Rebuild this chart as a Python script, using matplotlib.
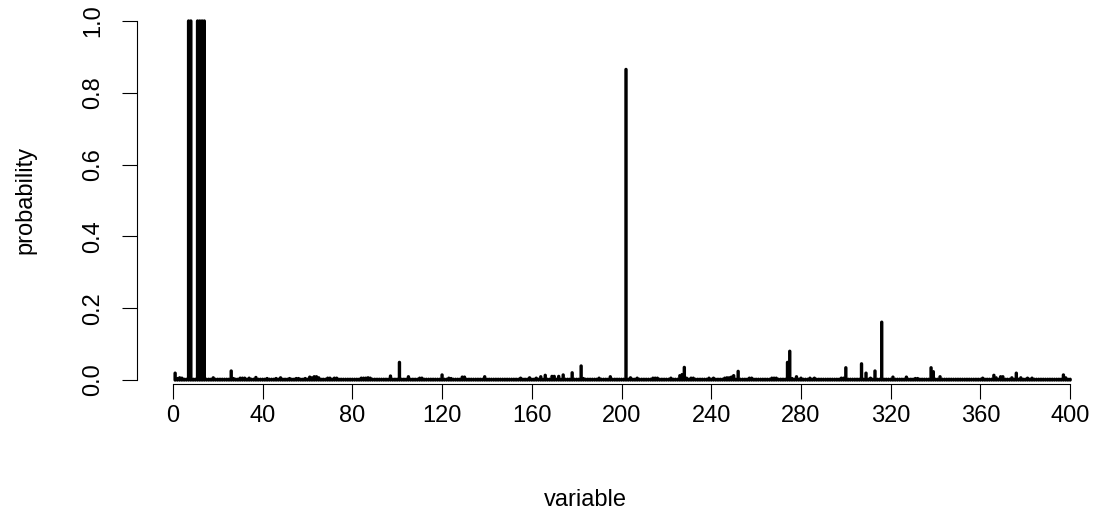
import numpy as np
import matplotlib
matplotlib.use("Agg")
import matplotlib.pyplot as plt

plt.rcParams['font.family'] = ['Liberation Sans', 'DejaVu Sans']
plt.rcParams['path.simplify'] = False

# ---- data -------------------------------------------------------------
n_variables = 400
base_prob = 0.002
sel_vars = [1, 2, 3, 4, 7, 8, 11, 12, 13, 14, 18, 26, 27, 30, 31, 32, 34, 37,
            42, 46, 48, 52, 55, 56, 59, 61, 62, 63, 64, 65, 69, 70, 72, 73,
            84, 85, 86, 87, 88, 97, 101, 105, 110, 111, 120, 123, 124, 129,
            130, 139, 155, 159, 162, 164, 166, 169, 170, 172, 174, 178, 182,
            183, 190, 195, 202, 204, 207, 214, 215, 216, 222, 226, 227, 228,
            229, 231, 232, 239, 241, 246, 247, 248, 249, 250, 252, 257, 258,
            267, 268, 269, 274, 275, 276, 278, 280, 284, 286, 298, 299, 300,
            307, 309, 311, 313, 316, 321, 327, 331, 332, 338, 339, 342, 361,
            366, 367, 369, 370, 374, 376, 378, 381, 383, 397, 398]
sel_probs = [0.019, 0.004, 0.006, 0.005, 1.0, 1.0, 1.0, 1.0, 1.0, 1.0, 0.006,
             0.025, 0.004, 0.005, 0.005, 0.005, 0.005, 0.007,
             0.004, 0.004, 0.006, 0.004, 0.004, 0.004, 0.004, 0.008, 0.006,
             0.009, 0.009, 0.006, 0.005, 0.005, 0.005, 0.005,
             0.005, 0.005, 0.005, 0.006, 0.005, 0.011, 0.049, 0.009, 0.005,
             0.005, 0.014, 0.005, 0.004, 0.008,
             0.008, 0.009, 0.005, 0.006, 0.005, 0.009, 0.013, 0.010, 0.010,
             0.010, 0.014, 0.020, 0.039,
             0.004, 0.005, 0.009, 0.865, 0.006, 0.005, 0.005, 0.005, 0.005,
             0.005, 0.012, 0.015, 0.035,
             0.005, 0.005, 0.005, 0.005, 0.005, 0.005, 0.006, 0.006, 0.008,
             0.012, 0.024, 0.005, 0.005,
             0.005, 0.005, 0.005, 0.049, 0.080, 0.004, 0.009, 0.005, 0.005,
             0.005, 0.005, 0.005, 0.034,
             0.045, 0.019, 0.005, 0.025, 0.161, 0.008, 0.008, 0.004, 0.004,
             0.034, 0.023, 0.009, 0.005,
             0.013, 0.006, 0.009, 0.009, 0.006, 0.019, 0.006, 0.005, 0.005,
             0.014, 0.006]
x_ticks = [0, 40, 80, 120, 160, 200, 240, 280, 320, 360, 400]
y_ticks = [0.0, 0.2, 0.4, 0.6, 0.8, 1.0]
x_label = "variable"
y_label = "probability"

variables = np.arange(1, n_variables + 1)
probs = np.full(n_variables, base_prob)
for v, p in zip(sel_vars, sel_probs):
    probs[v - 1] = p

# ---- figure -----------------------------------------------------------
W, H = 1101, 523
fig = plt.figure(figsize=(W / 100, H / 100), dpi=100)
left_px, right_px = 137.0, 1075.3
bottom_px, top_px = 384.3, 7.0
ax = fig.add_axes([left_px / W, 1 - bottom_px / H,
                   (right_px - left_px) / W, (bottom_px - top_px) / H])

ax.vlines(variables, 0, probs, colors='black', linewidth=2.45,
          capstyle='round', snap=False)

ax.set_xlim(-16.0, 402.3)
ax.set_ylim(-0.012, 1.039)

for s in ['top', 'right']:
    ax.spines[s].set_visible(False)
ax.spines['left'].set_bounds(0, 1)
ax.spines['bottom'].set_bounds(0, 400)
ax.spines['left'].set_linewidth(0.8)
ax.spines['bottom'].set_linewidth(0.8)

fs = 17
ax.set_xticks(x_ticks)
ax.set_xticklabels([str(t) for t in x_ticks])
ax.set_yticks(y_ticks)
ax.set_yticklabels([f"{t:.1f}" for t in y_ticks], rotation=90, va='center')
ax.tick_params(axis='both', direction='out', length=10.8, width=0.8,
               labelsize=fs, colors='black')
ax.tick_params(axis='x', pad=4)
ax.tick_params(axis='y', pad=13)

fig.text(585 / W, 1 - 500 / H, x_label, ha='center', va='center', fontsize=fs)
fig.text(25 / W, 1 - 200 / H, y_label, ha='center', va='center', fontsize=fs,
         rotation=90)

fig.savefig("out.png", dpi=100)
